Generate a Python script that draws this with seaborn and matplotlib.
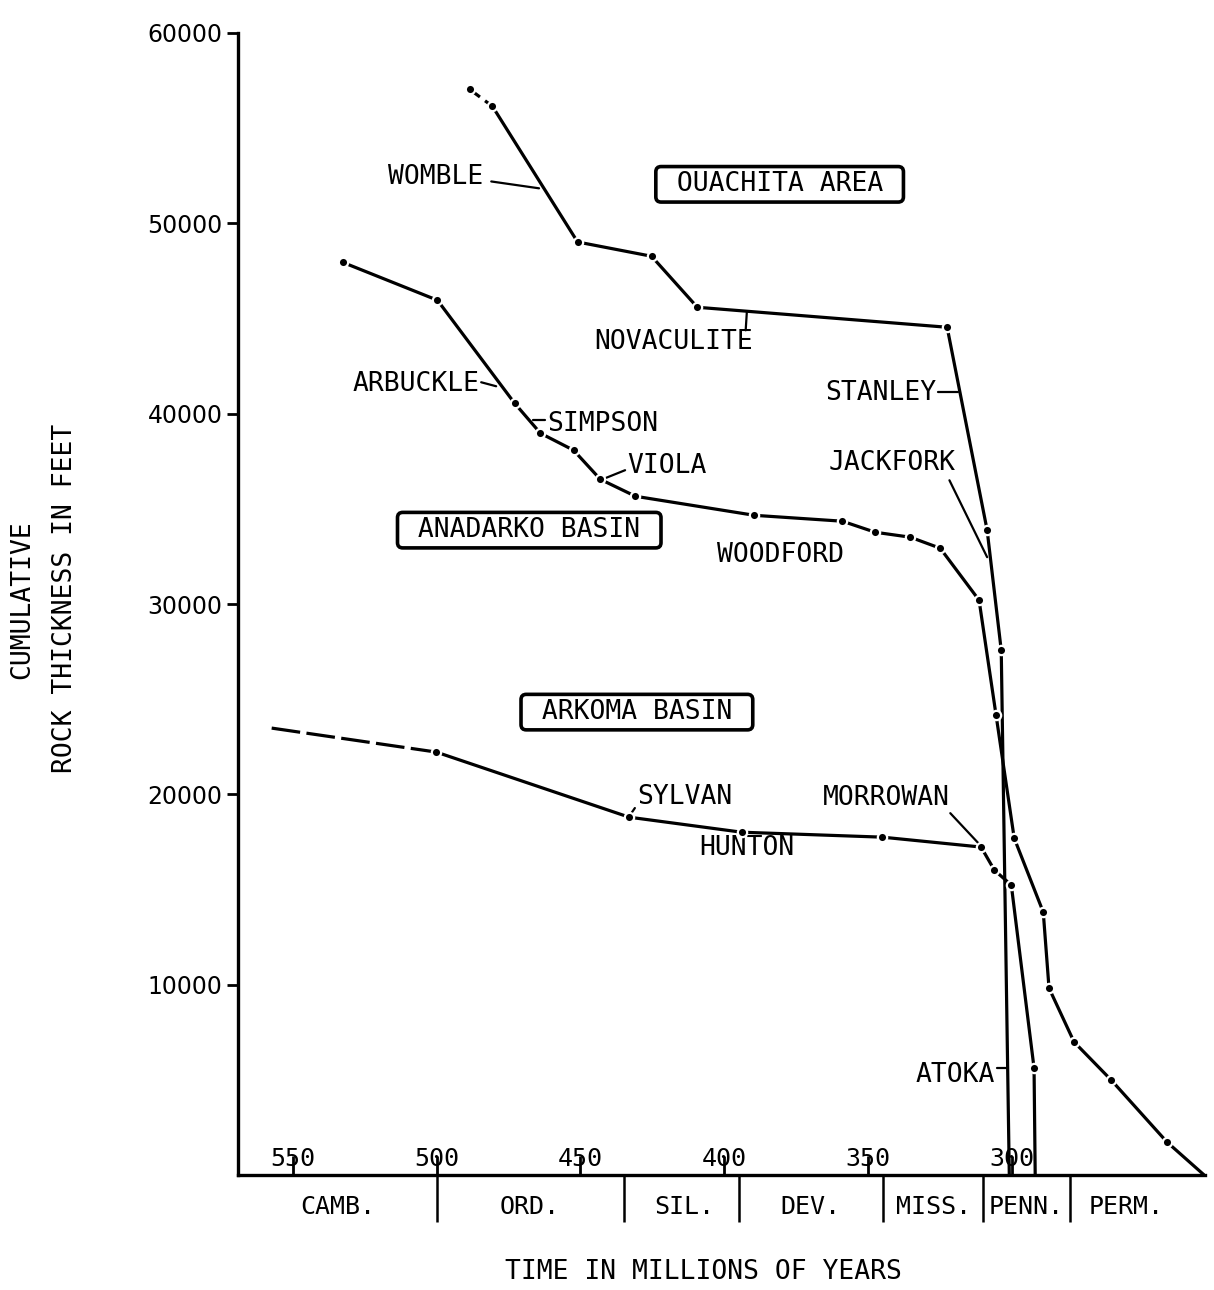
import matplotlib
matplotlib.use("Agg")
import matplotlib.pyplot as plt
import seaborn as sns
import pandas as pd

# cumulative thickness (ft) against age (Ma)
ouachita_age = [488.5, 480.6, 451.0, 425.3, 409.4, 322.6, 308.7, 303.8, 301.0]
ouachita_ft = [57040, 56150, 49020, 48270, 45590, 44540, 33880, 27570, 0]

anadarko_age = [532.6, 499.7, 472.9, 463.9, 452.4, 443.1, 430.9, 389.6, 359.0, 347.6,
                335.4, 325.0, 311.5, 305.6, 299.3, 289.2, 287.2, 278.5, 265.6, 246.2, 233.3]
anadarko_ft = [47950, 45960, 40550, 38970, 38080, 36550, 35660, 34660, 34350, 33770,
               33510, 32930, 30200, 24160, 17700, 13810, 9820, 6990, 4990, 1730, 0]

arkoma_age = [557.3, 500.1, 433.1, 394.0, 345.1, 310.8, 306.2, 300.3, 292.4, 292.0]
arkoma_ft = [23480, 22220, 18800, 18010, 17750, 17230, 16020, 15230, 5620, 0]

x_ticks = [550, 500, 450, 400, 350, 300]
y_ticks = [10000, 20000, 30000, 40000, 50000, 60000]

period_names = ["CAMB.", "ORD.", "SIL.", "DEV.", "MISS.", "PENN.", "PERM."]
period_mid = [534.5, 467.5, 414, 370, 327.5, 295, 260.5]
period_bounds = [500, 435, 395, 345, 310, 280]

# formation labels: text, age, thickness, alignment
formation_labels = [
    ("WOMBLE", 483.8, 52420, "right"),
    ("NOVACULITE", 417.5, 43750, "center"),
    ("STANLEY", 326.4, 41070, "right"),
    ("JACKFORK", 319.8, 37400, "right"),
    ("ARBUCKLE", 485.2, 41540, "right"),
    ("SIMPSON", 461.6, 39440, "left"),
    ("VIOLA", 433.8, 37240, "left"),
    ("WOODFORD", 380.4, 32560, "center"),
    ("SYLVAN", 430.4, 19850, "left"),
    ("HUNTON", 392.2, 17170, "center"),
    ("MORROWAN", 321.5, 19800, "right"),
    ("ATOKA", 305.9, 5250, "right"),
]
# leader lines: (age1, age2), (ft1, ft2)
leaders = [
    ((481.0, 464.4), (52200, 51840)),
    ((392.2, 392.6), (45330, 44380)),
    ((325.7, 318.7), (41130, 41130)),
    ((321.8, 308.7), (36500, 32460)),
    ((484.5, 479.3), (41650, 41440)),
    ((466.4, 462.3), (39650, 39650)),
    ((434.5, 443.2), (37030, 36500)),
    ((431.1, 433.5), (19280, 18750)),
    ((321.5, 311.1), (19010, 17330)),
    ((305.2, 302.1), (5620, 5620)),
]
area_boxes = [
    ("OUACHITA AREA", 380.8, 52050),
    ("ANADARKO BASIN", 467.8, 33880),
    ("ARKOMA BASIN", 430.4, 24320),
]

MONO = "DejaVu Sans Mono"
sns.set_theme(style="white")
plt.rcParams["font.family"] = ["DejaVu Sans"]
plt.rcParams["text.color"] = "black"

fig = plt.figure(figsize=(12.14, 12.90), dpi=100)
ax = fig.add_axes([238 / 1214, 115 / 1290, (1205 - 238) / 1214, (1175 - 33) / 1290])

line_kw = dict(color="black", linewidth=2.3, sort=False, estimator=None, ax=ax)
dot_kw = dict(color="black", s=45, edgecolor="white", linewidth=1.6, zorder=5, ax=ax)

oua = pd.DataFrame({"age": ouachita_age, "ft": ouachita_ft})
ana = pd.DataFrame({"age": anadarko_age, "ft": anadarko_ft})
ark = pd.DataFrame({"age": arkoma_age, "ft": arkoma_ft})

sns.lineplot(data=oua.iloc[:2], x="age", y="ft", linestyle=(0, (4, 2)), **line_kw)
sns.lineplot(data=oua.iloc[1:], x="age", y="ft", **line_kw)
sns.lineplot(data=ana, x="age", y="ft", **line_kw)
sns.lineplot(data=ark.iloc[:2], x="age", y="ft", linestyle=(0, (9, 2)), **line_kw)
sns.lineplot(data=ark.iloc[1:], x="age", y="ft", **line_kw)

sns.scatterplot(data=oua.iloc[:-1], x="age", y="ft", **dot_kw)
sns.scatterplot(data=ana.iloc[:-1], x="age", y="ft", **dot_kw)
sns.scatterplot(data=ark.iloc[1:-1], x="age", y="ft", **dot_kw)

for (a, v) in leaders:
    ax.plot(a, v, color="black", linewidth=1.6)

for txt, a, v, ha in formation_labels:
    ax.text(a, v, txt, ha=ha, va="center", fontsize=19, family=MONO, color="black")

for txt, a, v in area_boxes:
    ax.text(a, v, " " + txt + " ", ha="center", va="center", fontsize=19, family=MONO,
            color="black",
            bbox=dict(boxstyle="round,pad=0.18,rounding_size=0.2", fc="white",
                      ec="black", lw=2.6))

ax.set_xlim(569, 233)
ax.set_ylim(0, 60000)
ax.set_xticks(x_ticks)
ax.set_xticklabels([str(t) for t in x_ticks], family=MONO, fontsize=18)
ax.set_yticks(y_ticks)
ax.set_yticklabels([str(t) for t in y_ticks], fontsize=17)
ax.tick_params(axis="x", direction="in", length=14, width=2, pad=-20, colors="black",
               bottom=True)
ax.tick_params(axis="y", direction="out", length=8, width=2, pad=3, colors="black",
               left=True)
ax.set_xlabel("")
ax.set_ylabel("")
for side in ["top", "right"]:
    ax.spines[side].set_visible(False)
for side in ["left", "bottom"]:
    ax.spines[side].set_linewidth(2.4)
    ax.spines[side].set_color("black")

# geological periods under the time axis
xt = ax.get_xaxis_transform()
ax.vlines(period_bounds, -0.041, 0, transform=xt, color="black", linewidth=1.8,
          clip_on=False)
for name, mid in zip(period_names, period_mid):
    ax.text(mid, -0.028, name, transform=xt, ha="center", va="center", fontsize=18,
            family=MONO, color="black")

fig.text(703 / 1214, 1 - 1272 / 1290, "TIME IN MILLIONS OF YEARS", ha="center",
         va="center", fontsize=19, family=MONO, color="black")
fig.text(22 / 1214, 1 - 600 / 1290, "CUMULATIVE", rotation=90, ha="center",
         va="center", fontsize=19, family=MONO, color="black")
fig.text(65 / 1214, 1 - 598 / 1290, "ROCK THICKNESS IN FEET", rotation=90, ha="center",
         va="center", fontsize=19, family=MONO, color="black")

fig.savefig("out.png", dpi=100, facecolor="white")
